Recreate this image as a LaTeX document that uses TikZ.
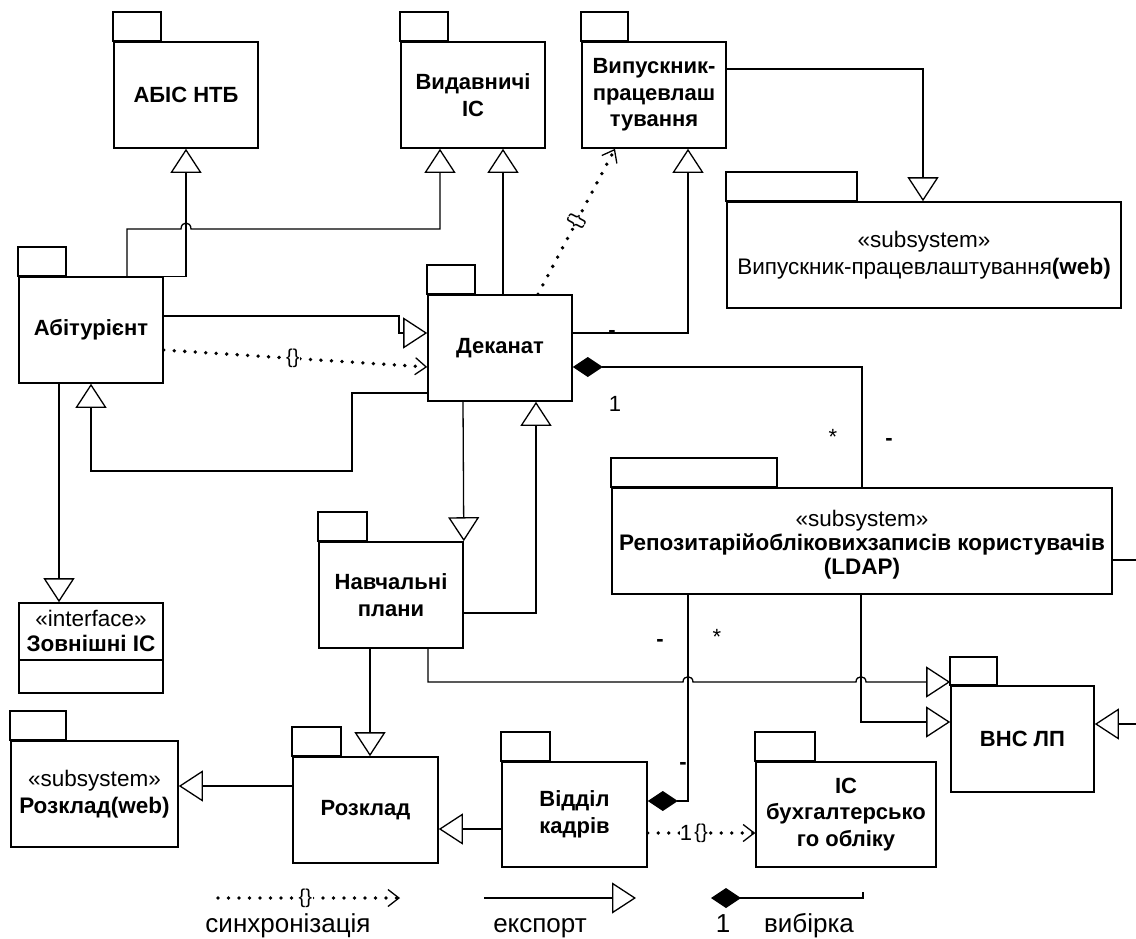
\documentclass[tikz,border=0pt]{standalone}
\usepackage{fontspec}
\setmainfont{Liberation Sans}
\usetikzlibrary{arrows.meta}
\begin{document}
\begin{tikzpicture}[x=1pt,y=-1pt,
  pkg/.style={draw, line width=1.6pt, minimum width=144pt, minimum height=106pt, inner sep=0pt, align=center, font=\fontsize{22}{26.5}\selectfont\bfseries},
  pkgreg/.style={pkg, font=\fontsize{22.5}{27}\selectfont},
  tabline/.style={line width=1.6pt},
  con/.style={line width=1.3pt},
  exp/.style={con, -{Triangle[open,length=24pt,width=31pt,line width=1.3pt]}},
  comp/.style={con, {Diamond[length=30pt,width=20pt]}-},
  compend/.style={con, -{Diamond[length=30pt,width=20pt]}},
  sync/.style={line width=3.8pt, line cap=round, dash pattern=on 0pt off 10.5pt, -{Straight Barb[length=11pt,width=17pt,line width=1.3pt]}},
  lbl/.style={font=\fontsize{22}{24}\selectfont, inner sep=0pt},
  dashlbl/.style={font=\fontsize{22}{24}\selectfont\bfseries, inner sep=0pt, anchor=base},
  brace/.style={fill=white, inner sep=0.5pt, font=\fontsize{20}{20}\selectfont},
  legend/.style={font=\fontsize{26}{28}\selectfont, inner sep=0pt, anchor=base},
]
\useasboundingbox (0,0) rectangle (1136,938);
\clip (0,0) rectangle (1136,938);

% packages
\node[pkg] (abis) at (186,95) {АБІС НТБ};
\draw[tabline] (abis.north west) rectangle ++(48,-29);
\node[pkg] (vyd) at (473,95) {Видавничі\\ІС};
\draw[tabline] (vyd.north west) rectangle ++(48,-29);
\node[pkg] (vyp) at (654,95) {Випускник-\\працевлаш\\тування};
\draw[tabline] (vyp.north west) rectangle ++(47,-29);
\node[pkgreg, minimum width=394pt] (vypweb) at (924,255) {«subsystem»\\Випускник-працевлаштування\textbf{(web)}};
\draw[tabline] (vypweb.north west) rectangle ++(131,-29);
\node[pkg] (abit) at (91,330) {Абітурієнт};
\draw[tabline] (abit.north west) rectangle ++(48,-29);
\node[pkg] (dek) at (500,348) {Деканат};
\draw[tabline] (dek.north west) rectangle ++(48,-29);
\node[pkg] (nav) at (391,595) {Навчальні\\плани};
\draw[tabline] (nav.north west) rectangle ++(49,-29);
\node[pkg, minimum width=500pt] (ldap) at (862,541) {};
\node[align=center, inner sep=0pt, font=\fontsize{22.5}{24}\selectfont] (ldapt) at (862,545) {«subsystem»\\\textbf{Репозитарійобліковихзаписів користувачів}\\\textbf{(LDAP)}};
\draw[tabline] (ldap.north west) rectangle ++(166,-29);
\node[draw, line width=1.6pt, minimum width=144pt, minimum height=90pt, inner sep=0pt] (zovn) at (91,648) {};
\node[align=center, inner sep=0pt, font=\fontsize{22.5}{25}\selectfont] (zovnt) at (91,631) {«interface»\\\textbf{Зовнішні ІС}};
\draw[line width=1.6pt] ([yshift=-12pt]zovn.west) -- ([yshift=-12pt]zovn.east);
\node[pkgreg, minimum width=167pt] (rozweb) at (94.5,794) {«subsystem»\\\textbf{Розклад(web)}};
\draw[tabline] (rozweb.north west) rectangle ++(56,-29);
\node[pkg, minimum width=145pt] (roz) at (365.5,810) {Розклад};
\draw[tabline] (roz.north west) rectangle ++(49,-29);
\node[pkg, minimum width=145pt, minimum height=105pt] (vid) at (574.5,814.5) {Відділ\\кадрів};
\draw[tabline] (vid.north west) rectangle ++(49,-29);
\node[pkg, minimum width=180pt, minimum height=105pt] (ic) at (846,814.5) {ІС\\бухгалтерсько\\го обліку};
\draw[tabline] (ic.north west) rectangle ++(60,-29);
\node[pkg, minimum width=143pt] (vns) at (1022.5,739) {ВНС ЛП};
\draw[tabline] (vns.north west) rectangle ++(47,-28);

% connectors
\draw[exp] (abit.north east) -| (abis.south);
\draw[exp] ([xshift=36pt]abit.north) -- (127,229) -- (181,229) .. controls (181,221) and (191,221) .. (191,229) -- (440,229) -- ([xshift=-33pt]vyd.south);
\draw[exp] ([xshift=3pt]dek.north) -- ([xshift=30pt]vyd.south);
\draw[exp] ([yshift=15pt]dek.east) -| ([xshift=34pt]vyp.south);
\node[dashlbl] (m1) at (612,337) {-};
\draw[sync] ([xshift=38pt]dek.north) -- ([xshift=-39pt]vyp.south) node[brace, midway, sloped] {\{\}};
\draw[exp] ([yshift=26pt]vyp.east) -| ([xshift=-1pt]vypweb.north);
\draw[exp] ([yshift=14pt]abit.east) -- (399,316) -- (399,333) -- ([yshift=15pt]dek.west);
\draw[sync] ([yshift=-20pt]abit.east) -- ([yshift=-19pt]dek.west) node[brace, pos=0.49] {\{\}};
\draw[exp] ([yshift=-45pt]dek.west) -- (352,393) -- (352,471) -| (abit.south);
\draw[exp] ([xshift=-32pt]abit.south) -- ([xshift=-32pt]zovn.north);
\draw[exp] ([xshift=-37pt]dek.south) -- (nav.north east);
\draw[exp] ([yshift=-18pt]nav.east) -| ([xshift=36pt]dek.south);
\draw[comp] ([yshift=-19pt]dek.east) -| (ldap.north);
\node[lbl] (m2) at (615,404) {1};
\node[lbl] (m3) at (833,437) {*};
\node[dashlbl] (m4) at (889,445) {-};
\draw[exp] ([xshift=-21pt]nav.south) -- ([xshift=4.5pt]roz.north);
\draw[exp] ([xshift=37pt]nav.south) -- (428,682) -- (683,682) .. controls (683,675) and (693,675) .. (693,682) -- (856,682) .. controls (856,675) and (866,675) .. (866,682) -- ([yshift=57pt]vns.west);
\draw[exp] ([xshift=-1pt]ldap.south) -- (861,722) -- ([yshift=17pt]vns.west);
\draw[compend] ([xshift=-174pt]ldap.south) -- (688,801) -- ([yshift=13.5pt]vid.east);
\node[dashlbl] (m5) at (660,646) {-};
\node[lbl] (m6) at (717,637) {*};
\node[dashlbl] (m7) at (683,769) {-};
\draw[exp] ([yshift=24pt]roz.west) -- ([yshift=8pt]rozweb.east);
\draw[exp] ([yshift=-14.5pt]vid.west) -- ([yshift=-19pt]roz.east);
\draw[sync] ([yshift=-18.5pt]vid.east) -- ([yshift=-18.5pt]ic.west);
\node[lbl, fill=white] (m8) at (686,833) {1};
\node[brace] (b3) at (701,833) {\{\}};
\draw[exp] ([yshift=-19pt]ldap.east) -- ++(38,0) |- ([yshift=15pt]vns.east);

% legend
\coordinate (ls1) at (218,898);
\coordinate (ls2) at (400,898);
\draw[sync] (ls1) -- (ls2) node[brace, pos=0.48] {\{\}};
\node[legend] (lt1) at (288,932) {синхронізація};
\coordinate (le1) at (484,898);
\coordinate (le2) at (636,898);
\draw[exp] (le1) -- (le2);
\node[legend] (lt2) at (540,932) {експорт};
\coordinate (lv1) at (711,898);
\coordinate (lv2) at (863,898);
\draw[comp] (lv1) -- (lv2) -- ++(0,-6);
\node[legend] (lt3) at (723,932) {1};
\node[legend] (lt4) at (809,932) {вибірка};
\end{tikzpicture}
\end{document}
